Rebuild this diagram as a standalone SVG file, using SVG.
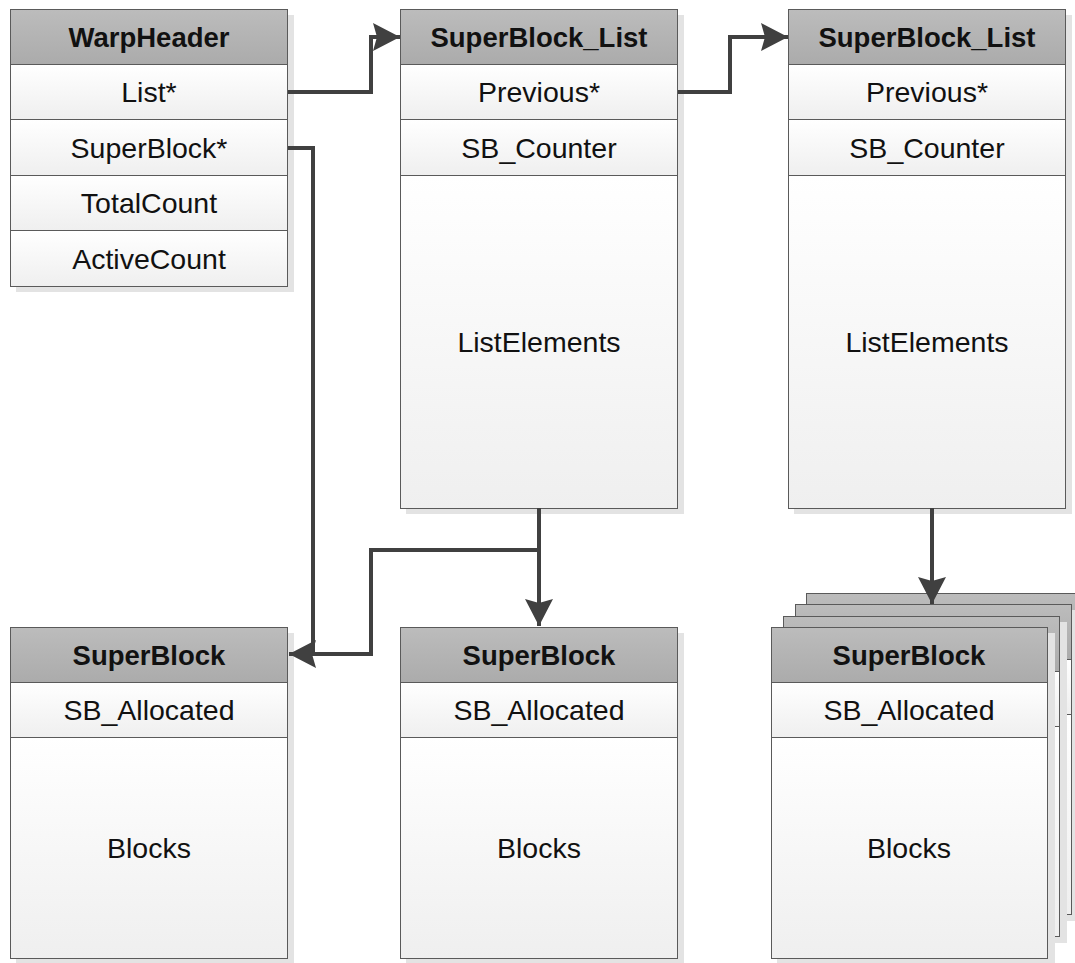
<svg xmlns="http://www.w3.org/2000/svg" width="1075" height="963" viewBox="0 0 1075 963">
  <defs>
    <linearGradient id="hdrFill" x1="0" y1="0" x2="0" y2="1">
      <stop offset="0" stop-color="#bcbcbc"/>
      <stop offset="1" stop-color="#ababab"/>
    </linearGradient>
    <linearGradient id="rowFill" x1="0" y1="0" x2="0" y2="1">
      <stop offset="0" stop-color="#ffffff"/>
      <stop offset="1" stop-color="#efefef"/>
    </linearGradient>
    <marker id="arrow" markerUnits="userSpaceOnUse" markerWidth="28" markerHeight="28" viewBox="0 0 28 28" refX="27" refY="14" orient="auto">
      <path d="M0,0 L27,14 L0,28 L4,14 Z" fill="#404040"/>
    </marker>
  </defs>
  <style>
    .shadow { fill: #e3e3e3; }
    .hdr { fill: url(#hdrFill); stroke: #5a5a5a; stroke-width: 1; }
    .row { fill: url(#rowFill); stroke: #5a5a5a; stroke-width: 1; }
    .ht { font-family: "Liberation Sans", Arial, sans-serif; font-weight: bold; font-size: 27.5px; fill: #111; text-anchor: middle; }
    .rt { font-family: "Liberation Sans", Arial, sans-serif; font-size: 28.5px; fill: #111; text-anchor: middle; }
    .conn { fill: none; stroke: #404040; stroke-width: 4; stroke-linejoin: miter; }
  </style>

  <rect width="1075" height="963" fill="#ffffff"/>

  <!-- WarpHeader -->
  <g id="warpHeader">
    <rect class="shadow" x="16" y="15" width="278" height="277"/>
    <rect class="hdr" x="10.5" y="9.5" width="277" height="55"/>
    <rect class="row" x="10.5" y="64.5" width="277" height="55"/>
    <rect class="row" x="10.5" y="119.5" width="277" height="56"/>
    <rect class="row" x="10.5" y="175.5" width="277" height="55"/>
    <rect class="row" x="10.5" y="230.5" width="277" height="56"/>
    <text class="ht" x="149" y="47">WarpHeader</text>
    <text class="rt" x="149" y="102">List*</text>
    <text class="rt" x="149" y="158">SuperBlock*</text>
    <text class="rt" x="149" y="213">TotalCount</text>
    <text class="rt" x="149" y="269">ActiveCount</text>
  </g>

  <!-- SuperBlock_List (first) -->
  <g id="sbList1">
    <rect class="shadow" x="406" y="15" width="278" height="499"/>
    <rect class="hdr" x="400.5" y="9.5" width="277" height="55"/>
    <rect class="row" x="400.5" y="64.5" width="277" height="55"/>
    <rect class="row" x="400.5" y="119.5" width="277" height="56"/>
    <rect class="row" x="400.5" y="175.5" width="277" height="333"/>
    <text class="ht" x="539" y="47">SuperBlock_List</text>
    <text class="rt" x="539" y="102">Previous*</text>
    <text class="rt" x="539" y="158">SB_Counter</text>
    <text class="rt" x="539" y="352">ListElements</text>
  </g>

  <!-- SuperBlock_List (second) -->
  <g id="sbList2">
    <rect class="shadow" x="794" y="15" width="278" height="499"/>
    <rect class="hdr" x="788.5" y="9.5" width="277" height="55"/>
    <rect class="row" x="788.5" y="64.5" width="277" height="55"/>
    <rect class="row" x="788.5" y="119.5" width="277" height="56"/>
    <rect class="row" x="788.5" y="175.5" width="277" height="333"/>
    <text class="ht" x="927" y="47">SuperBlock_List</text>
    <text class="rt" x="927" y="102">Previous*</text>
    <text class="rt" x="927" y="158">SB_Counter</text>
    <text class="rt" x="927" y="352">ListElements</text>
  </g>

  <!-- SuperBlock (left) -->
  <g id="superBlock1">
    <rect class="shadow" x="16" y="633" width="278" height="330"/>
    <rect class="hdr" x="10.5" y="627.5" width="277" height="55"/>
    <rect class="row" x="10.5" y="682.5" width="277" height="55"/>
    <rect class="row" x="10.5" y="737.5" width="277" height="221"/>
    <text class="ht" x="149" y="665">SuperBlock</text>
    <text class="rt" x="149" y="720">SB_Allocated</text>
    <text class="rt" x="149" y="858">Blocks</text>
  </g>

  <!-- SuperBlock (middle) -->
  <g id="superBlock2">
    <rect class="shadow" x="406" y="633" width="278" height="330"/>
    <rect class="hdr" x="400.5" y="627.5" width="277" height="55"/>
    <rect class="row" x="400.5" y="682.5" width="277" height="55"/>
    <rect class="row" x="400.5" y="737.5" width="277" height="221"/>
    <text class="ht" x="539" y="665">SuperBlock</text>
    <text class="rt" x="539" y="720">SB_Allocated</text>
    <text class="rt" x="539" y="858">Blocks</text>
  </g>

  <!-- SuperBlock stack (right) -->
  <g id="superBlockStack">
    <!-- back layers -->
    <rect class="shadow" x="812" y="599" width="278" height="289"/>
    <rect class="hdr" x="806.5" y="593.5" width="277" height="55"/>
    <rect class="row" x="806.5" y="648.5" width="277" height="55"/>
    <rect class="row" x="806.5" y="703.5" width="277" height="178"/>

    <rect class="shadow" x="801" y="610" width="278" height="311"/>
    <rect class="hdr" x="795.5" y="604.5" width="276" height="55"/>
    <rect class="row" x="795.5" y="659.5" width="276" height="55"/>
    <rect class="row" x="795.5" y="714.5" width="276" height="200"/>

    <rect class="shadow" x="789" y="622" width="278" height="321"/>
    <rect class="hdr" x="783.5" y="616.5" width="276" height="55"/>
    <rect class="row" x="783.5" y="671.5" width="276" height="55"/>
    <rect class="row" x="783.5" y="726.5" width="276" height="210"/>

    <!-- front layer -->
    <rect class="shadow" x="777" y="633" width="278" height="330"/>
    <rect class="hdr" x="771.5" y="627.5" width="276" height="55"/>
    <rect class="row" x="771.5" y="682.5" width="276" height="55"/>
    <rect class="row" x="771.5" y="737.5" width="276" height="221"/>
    <text class="ht" x="909" y="665">SuperBlock</text>
    <text class="rt" x="909" y="720">SB_Allocated</text>
    <text class="rt" x="909" y="858">Blocks</text>
  </g>

  <!-- Connectors -->
  <g id="connectors">
    <path class="conn" d="M288,92 H371 V37 H400" marker-end="url(#arrow)"/>
    <path class="conn" d="M678,92 H730 V37 H788" marker-end="url(#arrow)"/>
    <path class="conn" d="M288,148 H313 V654 H289" marker-end="url(#arrow)"/>
    <path class="conn" d="M539,508 V550 H371 V654 H313"/>
    <path class="conn" d="M539,550 V626" marker-end="url(#arrow)"/>
    <path class="conn" d="M932,508 V604" marker-end="url(#arrow)"/>
  </g>
</svg>
